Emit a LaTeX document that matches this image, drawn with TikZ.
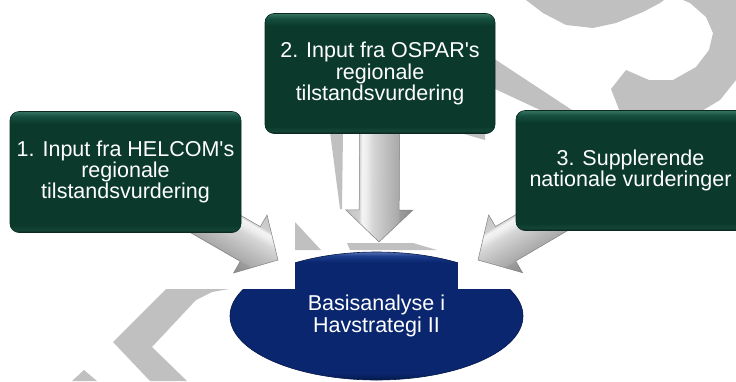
\documentclass[tikz,border=0pt]{standalone}
\usepackage{fontspec}
\setmainfont{Liberation Sans}
\usetikzlibrary{calc,shapes.geometric}
\definecolor{wm}{RGB}{192,192,192}
\definecolor{gbody}{RGB}{11,58,44}
\definecolor{gtop}{RGB}{56,116,98}
\definecolor{gmid}{RGB}{22,80,64}
\definecolor{gbot}{RGB}{6,34,26}
\definecolor{glow}{RGB}{20,68,54}
\definecolor{gedge}{RGB}{8,42,32}
\definecolor{ebody}{RGB}{10,38,110}
\definecolor{etop}{RGB}{84,112,180}
\definecolor{emid}{RGB}{28,62,142}
\definecolor{ebot}{RGB}{5,24,72}
\definecolor{aA}{RGB}{138,138,138}
\definecolor{aB}{RGB}{156,156,156}
\definecolor{aC}{RGB}{170,170,170}
\definecolor{aD}{RGB}{190,190,190}
\definecolor{aE}{RGB}{214,214,214}
\definecolor{aF}{RGB}{238,238,238}
\definecolor{aG}{RGB}{244,244,244}
\definecolor{aH}{RGB}{206,206,206}
\definecolor{aI}{RGB}{196,196,196}
\definecolor{aline}{RGB}{130,130,130}
\pgfdeclareverticalshading{boxshade}{100bp}{color(0bp)=(gbot); color(25bp)=(gbot); color(26bp)=(glow); color(28bp)=(gbody); color(70bp)=(gbody); color(73bp)=(gmid); color(75bp)=(gtop); color(100bp)=(gtop)}
\pgfdeclareverticalshading{ellshade}{100bp}{color(0bp)=(ebot); color(25bp)=(ebot); color(27.5bp)=(ebody); color(71bp)=(ebody); color(73.5bp)=(emid); color(75bp)=(etop); color(100bp)=(etop)}
\pgfdeclareverticalshading{arrshade}{100bp}{color(0bp)=(aA); color(25bp)=(aA); color(34.8bp)=(aB); color(36bp)=(aC); color(45bp)=(aD); color(55bp)=(aE); color(60bp)=(aF); color(63bp)=(aG); color(65.2bp)=(aH); color(75bp)=(aI); color(100bp)=(aI)}
\pgfdeclarelayer{lone}
\pgfdeclarelayer{ltwo}
\pgfdeclarelayer{lthree}
\pgfsetlayers{lone,ltwo,lthree,main}
\newcommand{\blockarr}[3]{%
  \path let \p1=($(#2)-(#1)$) in \pgfextra{\pgfmathsetmacro\tmpa{atan2(\y1,\x1)}\pgfmathsetmacro\tmpb{veclen(\x1,\y1)}\xdef\arrang{\tmpa}\xdef\arrlen{\tmpb}};
  \begin{scope}[transform canvas={shift={(#1)},rotate=\arrang}]
    \shade[shading=arrshade, shading angle=#3, draw=aline, line width=0.5pt, line join=miter]
      (0pt,20pt) -- ({\arrlen*1pt-32pt},20pt) -- ({\arrlen*1pt-32pt},33.5pt) -- ({\arrlen*1pt},0pt)
      -- ({\arrlen*1pt-32pt},-33.5pt) -- ({\arrlen*1pt-32pt},-20pt) -- (0pt,-20pt) -- cycle;
  \end{scope}}
\begin{document}
\begin{tikzpicture}[x=1pt,y=-1pt,
  gbox/.style={shade, shading=boxshade, rounded corners=9pt, draw=gedge, line width=0.6pt,
    text=white, align=center, inner sep=0pt, font=\fontsize{21.5}{21.3}\selectfont},
  ellnode/.style={ellipse, shade, shading=ellshade, draw=ebot, line width=0.6pt,
    minimum width=293pt, minimum height=128pt, inner sep=0pt,
    text=white, align=center, font=\fontsize{21.5}{21.5}\selectfont},
  wmark/.style={fill=wm}]
\useasboundingbox (0,0) rectangle (736,381);
\node[gbox, minimum width=231pt, minimum height=121pt] (b1) at (125.5,172) {1. Input fra HELCOM\textquotesingle s\\regionale\\tilstandsvurdering};
\node[gbox, minimum width=230pt, minimum height=120pt] (b2) at (380,73.5) {2. Input fra OSPAR\textquotesingle s\\regionale\\tilstandsvurdering};
\node[gbox, minimum width=229pt, minimum height=120pt] (b3) at (630.5,170.5) {3. Supplerende\\nationale vurderinger};
\coordinate (t1) at (278,260);
\coordinate (t2) at (379,242);
\coordinate (t3) at (478,260);
\begin{pgfonlayer}{lone}
\node[ellnode] (e) at (376.5,316) {Basisanalyse i\\Havstrategi II};
\end{pgfonlayer}
\begin{pgfonlayer}{ltwo}
\fill[white] (140,200) rectangle (295,289);
\fill[white] (458,200) rectangle (620,289);
\fill[wmark] (166,289) -- (229,289) -- (212,292) -- (196,300) -- (152,347) -- (187,381) -- (150,381) -- (113,342) -- cycle;
\fill[wmark] (72,381) -- (84,370) -- (97,381) -- cycle;
\fill[wmark] (330,132) -- (343,132) -- (342,209) -- (340,209) -- cycle;
\fill[wmark] (295,222) -- (321,250) -- (295,250) -- cycle;
\fill[wmark] (347,243) -- (413,243) -- (437,250) -- (350,250) -- cycle;
\fill[wmark] (457,132) -- (485,132) -- (485,140) -- cycle;
\fill[wmark] (493,58) -- (572,110) -- (540,110) -- (493,88) -- cycle;
\fill[wmark] (526,0) -- (543,13) -- (566,25) -- (593,28) -- (616,23) -- (643,12) -- (660,3) -- (664,0) -- cycle;
\fill[wmark] (626,70) -- (649,80) -- (673,80) -- (696,67) -- (709,50) -- (713,33) -- (706,17) -- (690,3) -- (683,0) -- (736,0) -- (736,80) -- (720,100) -- (700,112) -- (620,112) -- (611,89) -- cycle;
\end{pgfonlayer}
\begin{pgfonlayer}{lthree}
\blockarr{b1.center}{t1}{0}
\blockarr{b2.center}{t2}{180}
\blockarr{b3.center}{t3}{180}
\end{pgfonlayer}
\end{tikzpicture}
\end{document}
